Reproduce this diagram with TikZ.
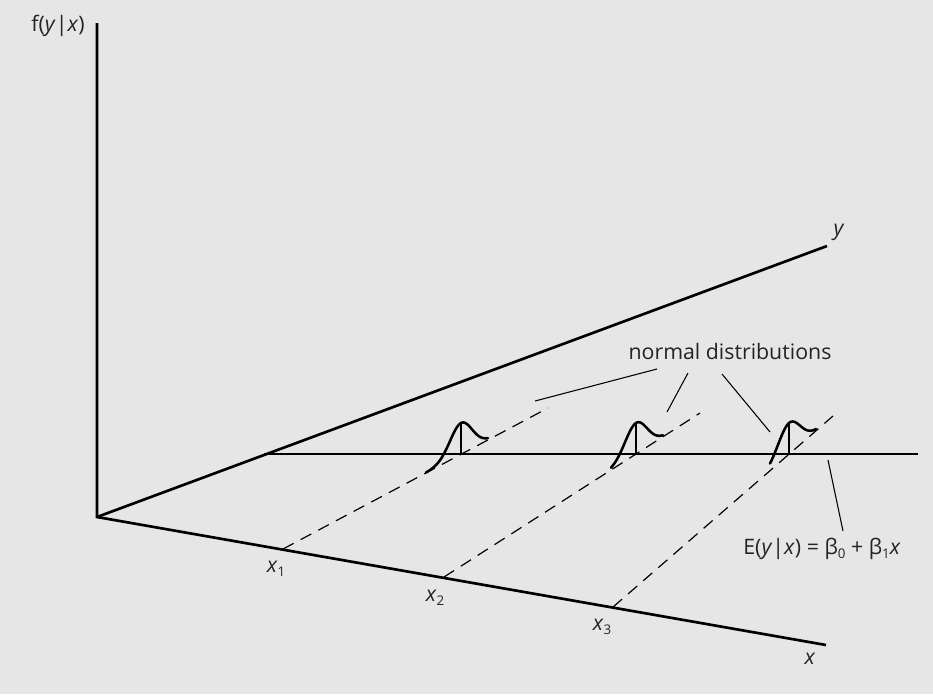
\documentclass[tikz,border=0pt]{standalone}
\usepackage{fontspec}
\setmainfont{Open Sans}
\usepackage{xcolor}
\usetikzlibrary{positioning}
\definecolor{panelgray}{RGB}{230,230,230}
\definecolor{labelgray}{RGB}{35,35,35}
\newcommand{\lowidx}[1]{\raisebox{-0.35ex}{\fontsize{10}{10}\selectfont #1}}
\tikzset{
  axis-line/.style={line width=2pt, draw=black},
  mean-line/.style={line width=2.1pt, draw=black},
  guide-line/.style={dash pattern=on 9pt off 6pt, line width=0.9pt, draw=black},
  pointer-line/.style={line width=0.8pt, draw=black},
  bell-curve/.style={line width=1.9pt, draw=black, line cap=round},
  axis-label/.style={font=\fontsize{16}{19}\selectfont, text=labelgray, inner sep=0pt},
  note-label/.style={font=\fontsize{16}{19}\selectfont, text=labelgray, inner sep=0pt}
}

\begin{document}
\begin{tikzpicture}[x=0.75pt,y=-0.75pt]
\fill[panelgray] (0,0) rectangle (933,694);
\useasboundingbox (0,0) rectangle (933,694);
% axes meeting at the origin
\coordinate (origin) at (97,517);
\coordinate (ftop) at (97,23);
\coordinate (yend) at (827,246);
\coordinate (xend) at (826,645);
\draw[axis-line] (ftop) -- (origin) -- (xend);
\draw[axis-line] (origin) -- (yend);
% conditional mean line
\coordinate (meanstart) at (264,454);
\coordinate (meanend) at (918,454);
\draw[mean-line] (meanstart) -- (meanend);
% dashed guides from each x value
\foreach \i/\ax/\ay/\bx/\by in {1/283/549/548/408, 2/444/577/700/413, 3/613/607/833/416} {
  \coordinate (foot\i) at (\ax,\ay);
  \coordinate (tip\i) at (\bx,\by);
  \draw[guide-line] (foot\i) -- (tip\i);
}
% normal curves sitting on the guides
\foreach \i/\cx/\m/\lo in {1/461/0.534/-35, 2/636/0.641/-25, 3/789/0.869/-19} {
  \coordinate (mode\i) at (\cx,454);
  \coordinate (peak\i) at (\cx,423);
  \draw[bell-curve, domain=\lo:27, samples=60, smooth, variable=\t]
    plot ({\cx+\t},{454-\m*\t-31*exp(-(\t*\t)/242)});
  \draw[bell-curve] (mode\i) -- (peak\i);
}
% axis labels
\node[axis-label] (flabel) at (58,26) {f(\textit{y}|\textit{x})};
\node[axis-label] (ylabel) at (839,232) {\textit{y}};
\node[axis-label] (xlabel) at (810,659) {\textit{x}};
\node[axis-label] (xone) at (276,569) {\textit{x}\lowidx{1}};
\node[axis-label] (xtwo) at (435,598) {\textit{x}\lowidx{2}};
\node[axis-label] (xthree) at (602,627) {\textit{x}\lowidx{3}};
% callouts
\node[note-label, anchor=base] (normlabel) at (730,359) {normal distributions};
\coordinate (normstart1) at (657,369);
\coordinate (normstart2) at (688,373);
\coordinate (normstart3) at (722,374);
\coordinate (normend1) at (535,401);
\coordinate (normend2) at (667,412);
\coordinate (normend3) at (770,432);
\foreach \i in {1,2,3}
  \draw[pointer-line] (normstart\i) -- (normend\i);
\node[note-label] (meanlabel) at (822,549) {E(\textit{y}|\textit{x}) = β\lowidx{0} + β\lowidx{1}\textit{x}};
\coordinate (meanpoint) at (828,460);
\coordinate (meanfoot) at (843,531);
\draw[pointer-line] (meanfoot) -- (meanpoint);
\end{tikzpicture}
\end{document}
